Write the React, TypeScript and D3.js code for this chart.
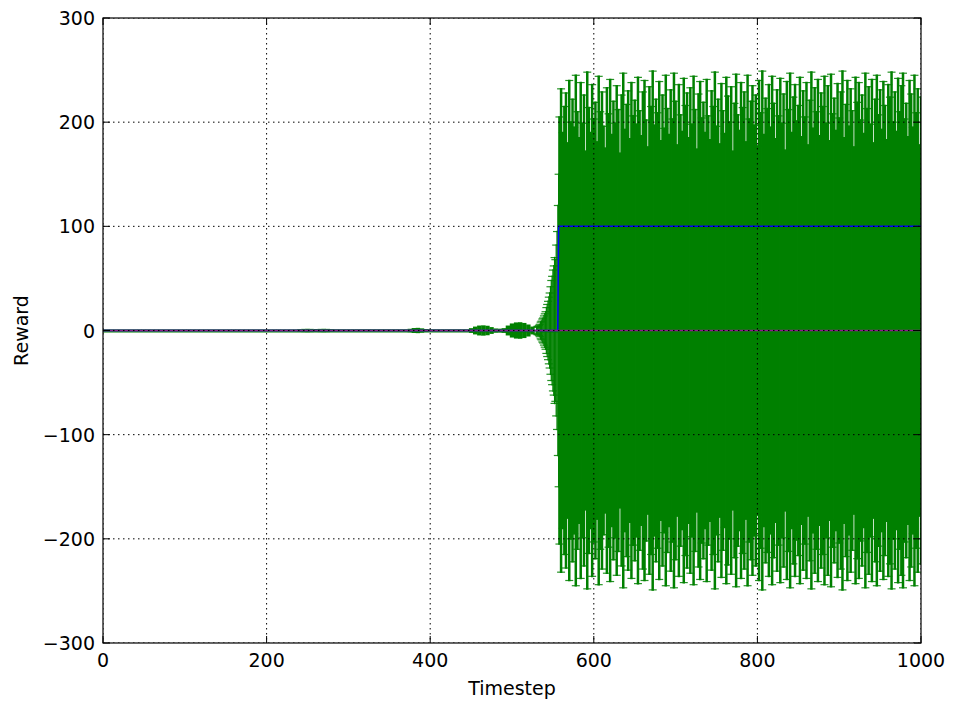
import React from "react";
import * as d3 from "d3";

// ---- data ----
const xTicks = [0, 200, 400, 600, 800, 1000];
const yTicks = [-300, -200, -100, 0, 100, 200, 300];

// early region: timesteps 0..525 every 5, error half-widths
const earlyStart = 0;
const earlyStep = 5;
const earlyErr = [
  0.4, 0.4, 0.4, 0.4, 0.4, 0.4, 0.4, 0.4, 0.4, 0.4,
  0.4, 0.4, 0.4, 0.4, 0.4, 0.4, 0.4, 0.4, 0.4, 0.4,
  0.4, 0.4, 0.4, 0.4, 0.4, 0.4, 0.4, 0.4, 0.4, 0.4,
  0.4, 0.4, 0.4, 0.4, 0.4, 0.4, 0.4, 0.4, 0.4, 0.4,
  0.4, 0.4, 0.4, 0.4, 0.4, 0.4, 0.4, 0.4, 0.6, 0.8,
  0.9, 0.8, 0.7, 0.8, 0.9, 0.8, 0.6, 0.5, 0.5, 0.5,
  0.5, 0.5, 0.5, 0.5, 0.5, 0.5, 0.5, 0.5, 0.5, 0.5,
  0.5, 0.5, 0.5, 0.5, 0.5, 0.9, 1.6, 1.8, 1.3, 0.7,
  0.5, 0.5, 0.5, 0.5, 0.5, 0.5, 0.5, 0.5, 0.5, 0.5,
  1.5, 3.0, 4.0, 4.2, 3.8, 2.5, 1.2, 1.0, 1.5, 4.0,
  6.0, 7.0, 7.2, 6.5, 5.0, 3.0,
];

// growth region: timesteps 530..557 every 1
const growthStart = 530;
const growthErr = [
  3, 4, 4, 5, 6, 8, 9, 11, 12, 14,
  16, 18, 22, 25, 28, 32, 36, 42, 48, 52,
  58, 62, 70, 68, 82, 95, 120, 150,
];

// dense region: timesteps 558..1000 every 2
const denseStart = 558;
const denseStep = 2;
const denseErr = [
  205, 232, 190, 215, 228, 180, 240, 200, 222, 195,
  245, 210, 185, 238, 199, 226, 172, 248, 214, 190,
  236, 203, 219, 181, 244, 210, 229, 196, 175, 233,
  208, 241, 188, 220, 199, 235, 212, 170, 226, 247,
  193, 217, 230, 184, 238, 206, 221, 198, 243, 211,
  187, 229, 240, 202, 176, 234, 215, 249, 197, 222,
  209, 239, 182, 226, 194, 245, 213, 188, 231, 203,
  247, 220, 178, 236, 207, 191, 242, 216, 228, 185,
  233, 198, 244, 212, 174, 227, 239, 204, 219, 190,
  241, 206, 183, 230, 215, 248, 196, 222, 179, 237,
  211, 189, 243, 225, 200, 234, 172, 218, 246, 207,
  192, 238, 214, 229, 181, 245, 203, 220, 235, 197,
  226, 177, 240, 209, 249, 188, 223, 213, 236, 195,
  244, 218, 184, 231, 206, 242, 199, 227, 173, 239,
  212, 247, 190, 224, 236, 201, 216, 243, 186, 230,
  205, 238, 178, 221, 248, 194, 233, 210, 241, 187,
  228, 215, 244, 199, 235, 182, 246, 208, 223, 192,
  237, 204, 229, 249, 185, 217, 240, 196, 232, 211,
  176, 243, 219, 238, 202, 226, 189, 247, 213, 234,
  198, 241, 180, 222, 245, 207, 231, 193, 239, 216,
  183, 236, 224, 248, 200, 229, 191, 242, 210, 235,
  247, 203, 218, 186, 240, 227, 195, 245, 209, 232,
  178, 224,
];

// mean lines
const blueT = [0, 556, 557, 1000];
const blueV = [0, 0, 100, 100];
const purpleT = [0, 1000];
const purpleV = [0, 0];

// ---- layout ----
const W = 953;
const H = 706;
const L = 103;
const R = 921;
const T = 18;
const B = 643;
const FONT = "DejaVu Sans, sans-serif";
const FS = 19;

const fmt = (v: number) => (v < 0 ? "\u2212" + Math.abs(v) : String(v));

export default function App() {
  const x = d3.scaleLinear().domain([0, 1000]).range([L, R]);
  const y = d3.scaleLinear().domain([-300, 300]).range([B, T]);

  const bars: { t: number; e: number; kind: number }[] = [];
  earlyErr.forEach((e, i) => bars.push({ t: earlyStart + i * earlyStep, e, kind: 0 }));
  growthErr.forEach((e, i) => bars.push({ t: growthStart + i, e, kind: 1 }));
  denseErr.forEach((e, i) => bars.push({ t: denseStart + i * denseStep, e, kind: 2 }));

  const line = d3
    .line<[number, number]>()
    .x((d) => x(d[0]))
    .y((d) => y(d[1]));

  const blue = line(blueT.map((t, i) => [t, blueV[i]] as [number, number])) || "";
  const purple = line(purpleT.map((t, i) => [t, purpleV[i]] as [number, number])) || "";
  const green = line(bars.map((b) => [b.t, 0] as [number, number])) || "";

  const cap = 4;
  const tick = 7;
  const earlyW = x(earlyStep) - x(0) + 0.3;

  return (
    <svg width={W} height={H} style={{ position: "absolute", left: 0, top: 0 }}>
      <rect x={0} y={0} width={W} height={H} fill="#fff" />
      <defs>
        <clipPath id="plot">
          <rect x={L} y={T} width={R - L} height={B - T} />
        </clipPath>
      </defs>
      <g clipPath="url(#plot)">
        {bars.map((b, i) => {
          const px = x(b.t);
          const sw = b.kind === 2 ? 2.5 : b.kind === 0 ? earlyW : 1.2;
          return (
            <g key={i} stroke="#008000">
              <line x1={px} x2={px} y1={y(-b.e) + 0.8} y2={y(b.e) - 0.8} strokeWidth={sw} />
              {b.kind !== 0 && (
                <>
                  <line x1={px - cap} x2={px + cap} y1={y(b.e)} y2={y(b.e)} strokeWidth={1.2} strokeOpacity={0.85} />
                  <line x1={px - cap} x2={px + cap} y1={y(-b.e)} y2={y(-b.e)} strokeWidth={1.2} strokeOpacity={0.85} />
                </>
              )}
            </g>
          );
        })}
        <path d={green} fill="none" stroke="#008000" strokeWidth={1.2} transform="translate(0,1.5)" />
        <path d={blue} fill="none" stroke="#0000ff" strokeWidth={1.5} />
        <path d={purple} fill="none" stroke="#8e1b8e" strokeWidth={1.5} />
        {/* grid on top */}
        {xTicks.map((t) => (
          <line key={"gx" + t} x1={x(t)} x2={x(t)} y1={T} y2={B} stroke="#000" strokeWidth={1} strokeDasharray="1.5,3.5" />
        ))}
        {yTicks.map((t) => (
          <line key={"gy" + t} x1={L} x2={R} y1={y(t)} y2={y(t)} stroke="#000" strokeWidth={1} strokeDasharray="1.5,3.5" />
        ))}
      </g>
      {/* ticks inside on all sides */}
      {xTicks.map((t) => (
        <g key={"tx" + t} stroke="#000" strokeWidth={1}>
          <line x1={x(t)} x2={x(t)} y1={B} y2={B - tick} />
          <line x1={x(t)} x2={x(t)} y1={T} y2={T + tick} />
        </g>
      ))}
      {yTicks.map((t) => (
        <g key={"ty" + t} stroke="#000" strokeWidth={1}>
          <line x1={L} x2={L + tick} y1={y(t)} y2={y(t)} />
          <line x1={R} x2={R - tick} y1={y(t)} y2={y(t)} />
        </g>
      ))}
      <rect x={L} y={T} width={R - L} height={B - T} fill="none" stroke="#000" strokeWidth={1.2} />
      {xTicks.map((t) => (
        <text key={"lx" + t} x={x(t)} y={B + 24} textAnchor="middle" fontFamily={FONT} fontSize={FS} fill="#000">
          {fmt(t)}
        </text>
      ))}
      {yTicks.map((t) => (
        <text key={"ly" + t} x={L - 8} y={y(t) + 7} textAnchor="end" fontFamily={FONT} fontSize={FS} fill="#000">
          {fmt(t)}
        </text>
      ))}
      <text x={(L + R) / 2} y={695} textAnchor="middle" fontFamily={FONT} fontSize={FS} fill="#000">
        Timestep
      </text>
      <text
        transform={`translate(28, ${(T + B) / 2}) rotate(-90)`}
        textAnchor="middle"
        fontFamily={FONT}
        fontSize={FS}
        fill="#000"
      >
        Reward
      </text>
    </svg>
  );
}
